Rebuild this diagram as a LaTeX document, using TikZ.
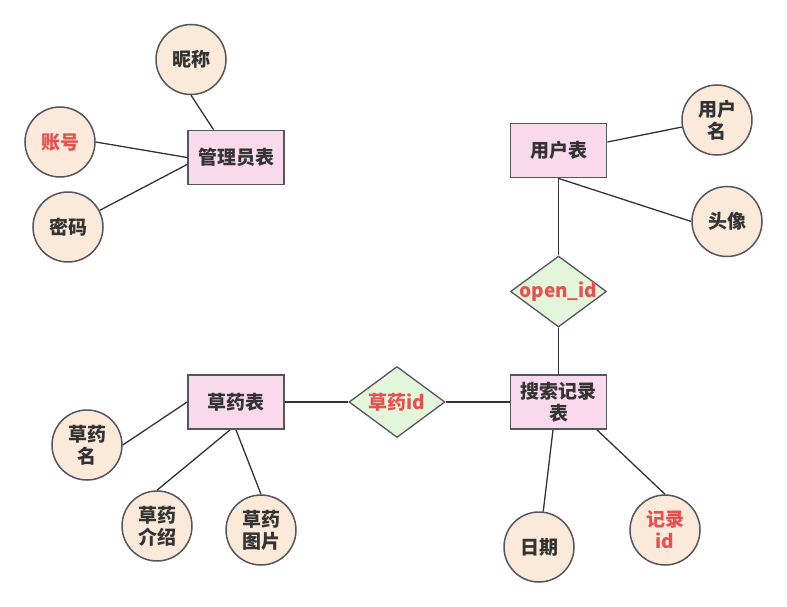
\documentclass[tikz,border=0pt]{standalone}
\usepackage{fontspec}
\setmainfont{Noto Sans CJK SC}
\usetikzlibrary{shapes.geometric,calc}
\definecolor{entfill}{HTML}{F9DAEC}
\definecolor{attfill}{HTML}{FBE9DA}
\definecolor{relfill}{HTML}{E3F5DB}
\definecolor{strokec}{HTML}{55555D}
\definecolor{txt}{HTML}{333333}
\definecolor{keyred}{HTML}{E85050}
\tikzset{
  every node/.style={font=\bfseries\fontsize{19}{25}\selectfont, text=txt, align=center},
  entity/.style={draw=strokec, line width=1.8pt, fill=entfill, rectangle, minimum width=96pt, minimum height=54pt, inner sep=0pt},
  attr/.style={draw=strokec, line width=1.5pt, fill=attfill, circle, minimum size=70pt, inner sep=0pt},
  rel/.style={draw=strokec, line width=1.3pt, fill=relfill, diamond, minimum width=96pt, minimum height=71pt, inner sep=0pt, aspect=1.35},
  link/.style={draw=txt, line width=1.3pt},
  key/.style={text=keyred}
}
\begin{document}
\begin{tikzpicture}[x=1pt,y=-1pt]
\useasboundingbox (0,0) rectangle (787,607);
% entities
\node[entity] (adm) at (236,157.5) {管理员表};
\node[entity] (user) at (558.5,150.5) {用户表};
\node[entity] (herb) at (236,402) {草药表};
\node[entity] (rec) at (558.5,402) {搜索记录\\[-3pt]表};
% relations
\node[rel] (oid) at (558.5,291.5) {};
\node[key] (oidt) at (558.5,291.5) {open\_id};
\node[rel] (hid) at (397,402) {};
\node[key] (hidt) at (397,402) {草药id};
% attributes
\node[attr] (nick) at (191,59.5) {昵称};
\node[attr,key] (acct) at (60,142) {账号};
\node[attr] (pwd) at (68,227) {密码};
\node[attr] (uname) at (717,120) {用户\\[-3pt]名};
\node[attr] (avatar) at (727,221.5) {头像};
\node[attr] (hname) at (87,445) {草药\\[-3pt]名};
\node[attr] (hintro) at (157,526) {草药\\[-3pt]介绍};
\node[attr] (hpic) at (261,530) {草药\\[-3pt]图片};
\node[attr] (date) at (539,547) {日期};
\node[attr,key] (rid) at (665,530) {记录\\[-3pt]id};
% connectors
\draw[link] (nick.south) -- ($(adm.north west)!0.27!(adm.north east)$);
\draw[link] (acct.east) -- (adm.west);
\draw[link] ($(adm.west)+(0,7)$) -- (pwd);
\draw[link] ($(user.east)+(0,-8.5)$) -- (uname);
\draw[link] (user.south) -- (avatar.west);
\draw[link] (user.south) -- (oid.north);
\draw[link] (oid.south) -- (rec.north);
\draw[link] (herb.east) -- (hid.west);
\draw[link] (hid.east) -- (rec.west);
\draw[link] (hname.east) -- (herb.west);
\draw[link] ($(herb.south)+(-6,0)$) -- (hintro.north);
\draw[link] (herb.south) -- (hpic.north);
\draw[link] ($(rec.south)+(-5.5,0)$) -- (date);
\draw[link] ($(rec.south)+(38.5,0)$) -- (rid.north);
\end{tikzpicture}
\end{document}
